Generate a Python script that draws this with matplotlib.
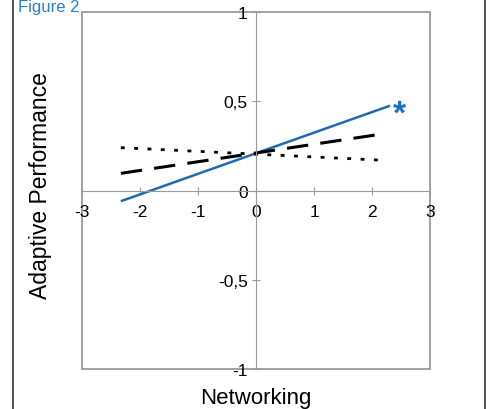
import matplotlib
matplotlib.use("Agg")
import matplotlib.pyplot as plt
from matplotlib.patches import Rectangle

plt.rcParams['font.family'] = ['Liberation Sans', 'DejaVu Sans']

# simple slopes, networking from -2.33 to about 2.2
x_low = [-2.33, 2.31]
y_solid = [-0.06, 0.475]
x_dash = [-2.33, 2.18]
y_dash = [0.096, 0.317]
x_dot = [-2.33, 2.15]
y_dot = [0.24, 0.17]

xticks = [-3, -2, -1, 0, 1, 2, 3]
yticks = [-1, -0.5, 0, 0.5, 1]
ylabels = ['-1', '-0,5', '0', '0,5', '1']

fig = plt.figure(figsize=(4.98, 4.10), dpi=100)
ax = fig.add_axes([82/498, 1-370/410, 348/498, 357/410])

ax.plot(x_low, y_solid, color='#1f6aad', lw=1.8, solid_capstyle='butt')
ax.plot(x_dash, y_dash, color='black', lw=2.2, dashes=(7, 4))
ax.plot(x_dot, y_dot, color='black', lw=2.0, dashes=(1.4, 3.4))
ax.text(2.47, 0.43, '*', color='#1a6fc4', fontsize=24, fontweight='bold',
        ha='center', va='center')

ax.set_xlim(-3, 3)
ax.set_ylim(-1, 1)

grey = '#9a9a9a'
for s in ['top', 'right']:
    ax.spines[s].set_visible(False)
ax.spines['left'].set_position(('data', 0))
ax.spines['bottom'].set_position(('data', 0))
ax.spines['left'].set_color(grey)
ax.spines['bottom'].set_color(grey)
ax.add_patch(Rectangle((0, 0), 1, 1, transform=ax.transAxes, fill=False,
                       edgecolor=grey, lw=1.3, clip_on=False))

ax.set_xticks(xticks)
ax.set_xticklabels([str(v) for v in xticks])
ax.set_yticks(yticks)
ax.set_yticklabels(ylabels)
ax.tick_params(direction='inout', length=6, color=grey, labelsize=12.5)
ax.tick_params(axis='x', pad=7)
ax.tick_params(axis='y', pad=3)

fig.text(40/498, 1-186/410, 'Adaptive Performance', rotation=90,
         ha='center', va='center', fontsize=16.5)
fig.text(256/498, 1/410, 'Networking', ha='center', va='bottom', fontsize=16)
fig.text(18/498, 1.0, 'Figure 2', color='#2a7fd0', fontsize=12,
         ha='left', va='top')

# outer frame
fig.add_artist(plt.Line2D([13/498, 13/498], [0, 1], color='#333333', lw=1.2))
fig.add_artist(plt.Line2D([485/498, 485/498], [0, 1], color='#333333', lw=1.2))

fig.savefig('out.png', dpi=100)
